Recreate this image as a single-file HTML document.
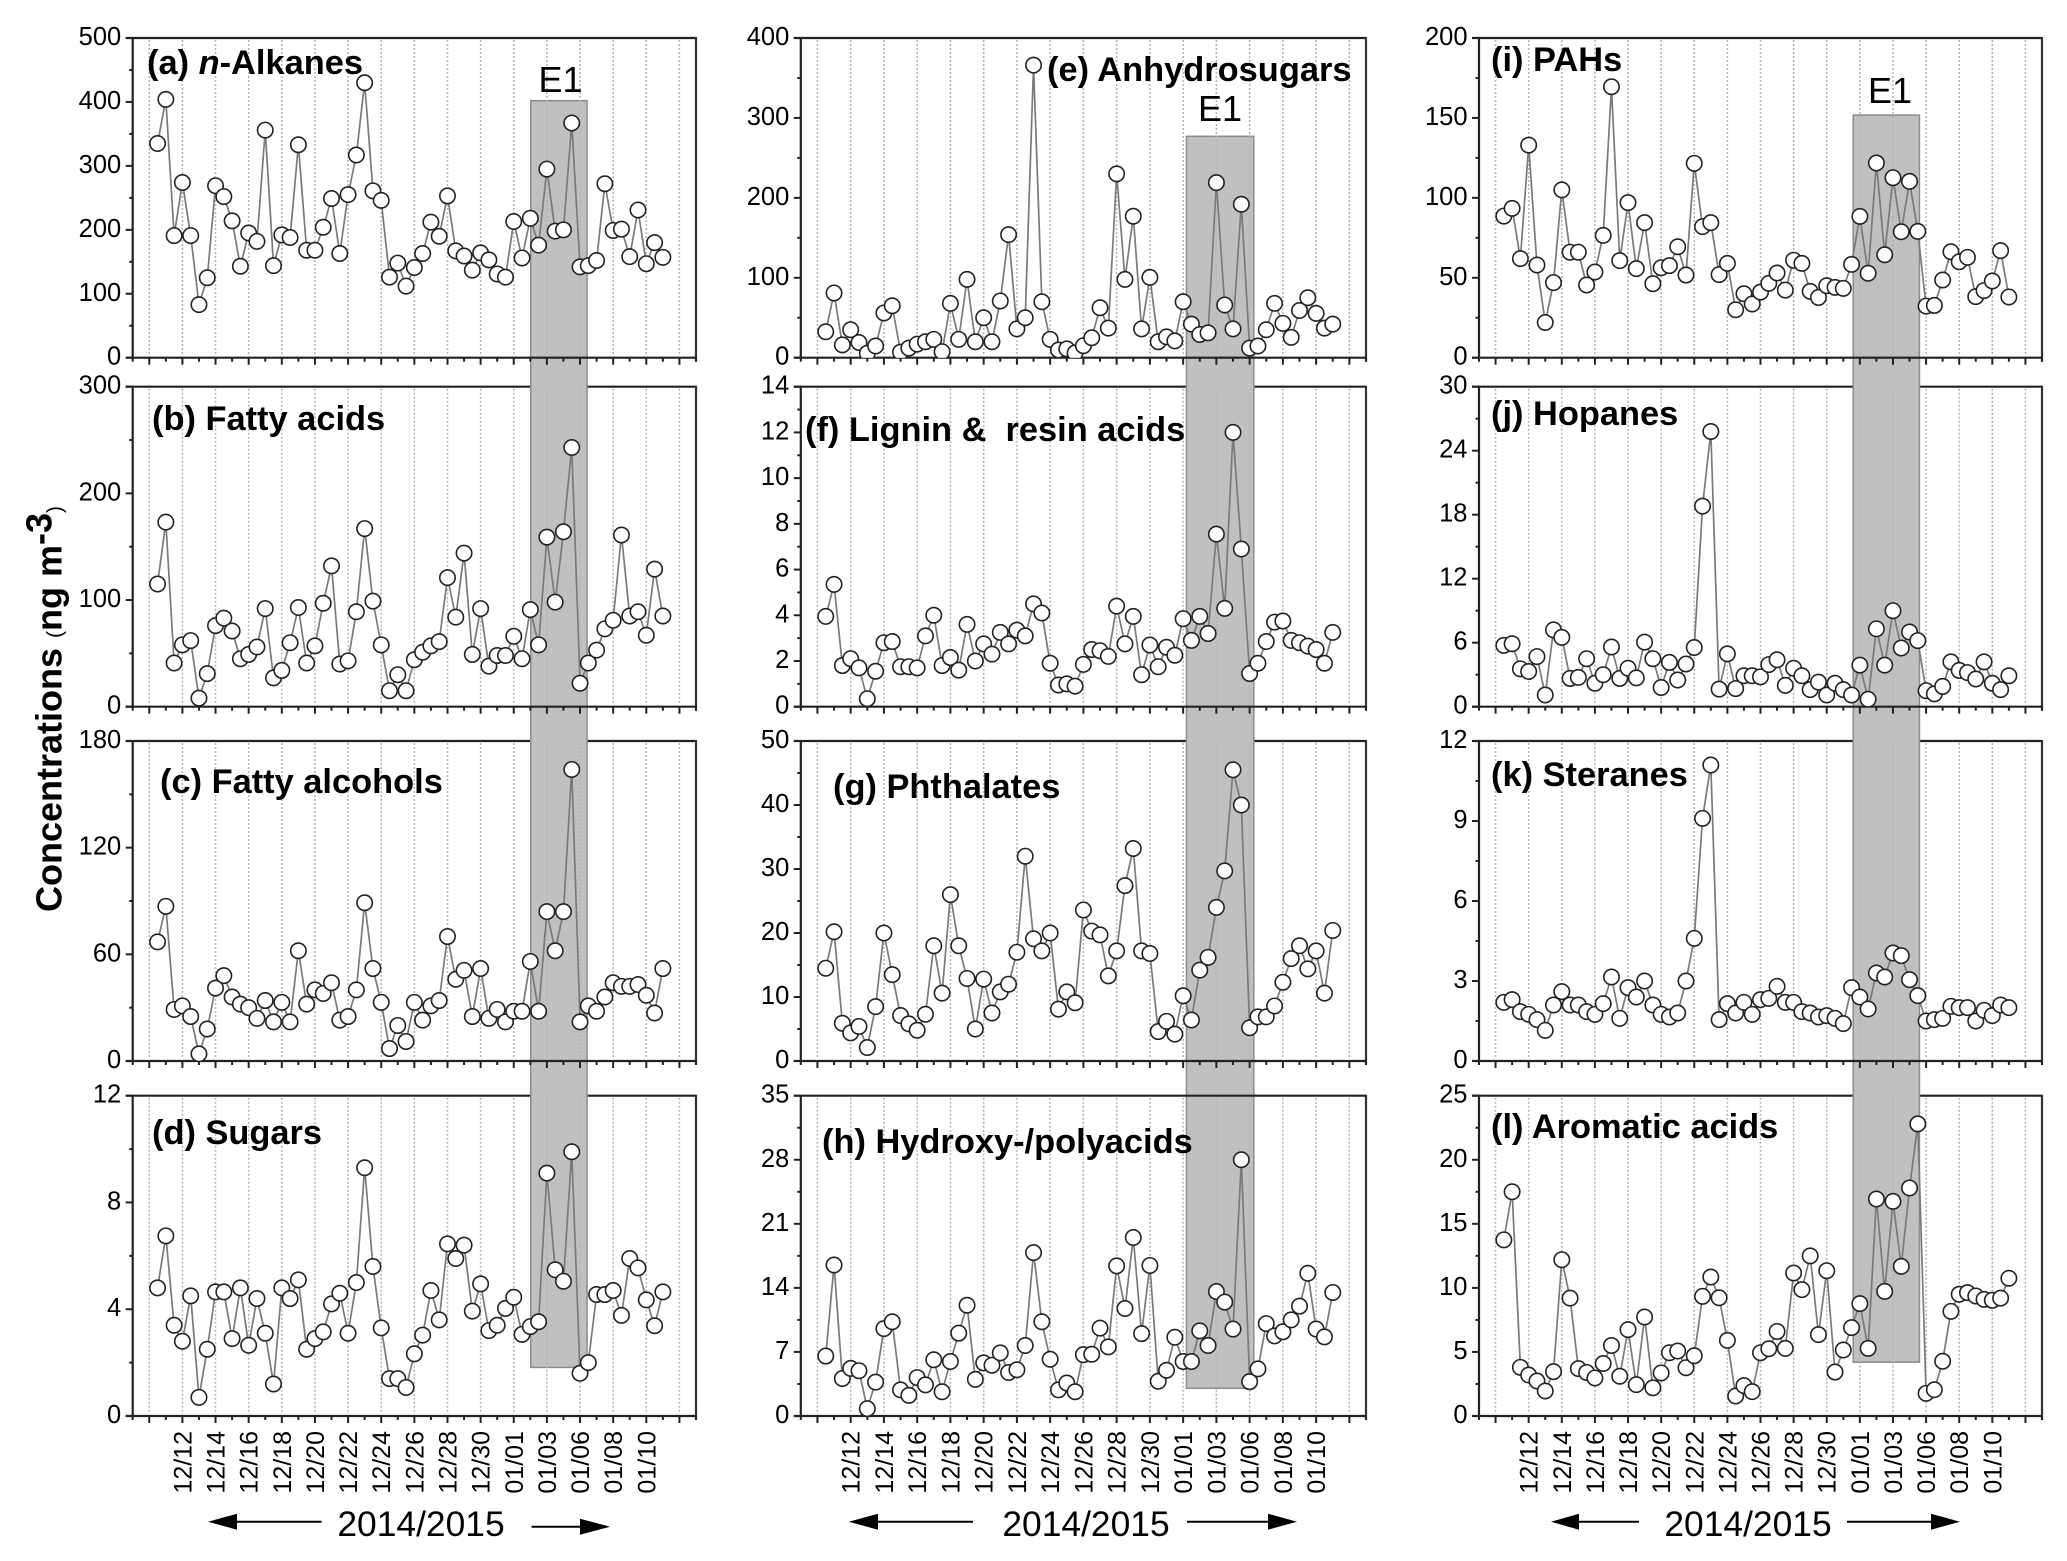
<!DOCTYPE html>
<html lang="en">
<head>
<meta charset="utf-8">
<title>Concentrations time series 2014/2015</title>
<style>
html,body{margin:0;padding:0;background:#fff;}
svg{display:block;font-family:"Liberation Sans",Arial,sans-serif;}
.pt{font-weight:bold;font-size:34.4px;fill:#000;white-space:pre;}
.e1{font-size:36px;fill:#000;text-anchor:middle;}
.yr{font-size:35.4px;fill:#000;text-anchor:middle;}
</style>
</head>
<body>
<svg id="chart" xmlns="http://www.w3.org/2000/svg" width="2067" height="1561" viewBox="0 0 2067 1561">
  <rect width="2067" height="1561" fill="#fff"/>
  <defs id="clips"></defs>
  <g id="layer-back"></g>
  <g id="layer-band"></g>
  <g id="layer-grid"></g>
  <g id="layer-front"></g>
  <g id="layer-series"></g>

  <g>
    <text class="pt" x="147" y="74">(a) <tspan font-style="italic">n</tspan>-Alkanes</text>
    <text class="pt" x="152" y="430">(b) Fatty acids</text>
    <text class="pt" x="160" y="793">(c) Fatty alcohols</text>
    <text class="pt" x="152" y="1144">(d) Sugars</text>
    <text class="pt" x="1047" y="81">(e) Anhydrosugars</text>
    <text class="pt" x="805" y="441">(f) Lignin &amp;  resin acids</text>
    <text class="pt" x="833" y="798">(g) Phthalates</text>
    <text class="pt" x="822" y="1153">(h) Hydroxy-/polyacids</text>
    <text class="pt" x="1491" y="71">(i) PAHs</text>
    <text class="pt" x="1491" y="425">(j) Hopanes</text>
    <text class="pt" x="1491" y="786">(k) Steranes</text>
    <text class="pt" x="1491" y="1138">(l) Aromatic acids</text>
  </g>

  <g>
    <text class="e1" x="560.5" y="92">E1</text>
    <text class="e1" x="1220" y="121">E1</text>
    <text class="e1" x="1890" y="103">E1</text>
  </g>

  <text transform="translate(61.7 912) rotate(-90)" font-weight="bold" font-size="36" fill="#000">Concentrations <tspan font-size="21" font-weight="normal">(</tspan><tspan>ng m</tspan><tspan dy="-10">-3</tspan><tspan dy="10" font-size="21" font-weight="normal">)</tspan></text>

  <g>
    <text class="yr" x="421" y="1536">2014/2015</text>
    <line x1="237" y1="1521.7" x2="321.5" y2="1521.7" stroke="#000" stroke-width="2"/>
    <polygon points="208,1521.7 237,1513.7 237,1529.7" fill="#000"/>
    <line x1="531.6" y1="1526.7" x2="580" y2="1526.7" stroke="#000" stroke-width="2"/>
    <polygon points="610,1526.7 580,1518.7 580,1534.7" fill="#000"/>
  </g>
  <g>
    <text class="yr" x="1086" y="1536">2014/2015</text>
    <line x1="878" y1="1521.7" x2="973" y2="1521.7" stroke="#000" stroke-width="2"/>
    <polygon points="848.7,1521.7 878,1513.7 878,1529.7" fill="#000"/>
    <line x1="1187" y1="1521.7" x2="1268" y2="1521.7" stroke="#000" stroke-width="2"/>
    <polygon points="1297,1521.7 1268,1513.7 1268,1529.7" fill="#000"/>
  </g>
  <g>
    <text class="yr" x="1748" y="1536">2014/2015</text>
    <line x1="1579" y1="1521.7" x2="1639" y2="1521.7" stroke="#000" stroke-width="2"/>
    <polygon points="1551,1521.7 1579,1513.7 1579,1529.7" fill="#000"/>
    <line x1="1847" y1="1521.7" x2="1931" y2="1521.7" stroke="#000" stroke-width="2"/>
    <polygon points="1960,1521.7 1931,1513.7 1931,1529.7" fill="#000"/>
  </g>
</svg>

<script>
// Categories: date label printed on major ticks 1..15 of the bottom row
const dateLabels = ['12/12','12/14','12/16','12/18','12/20','12/22','12/24','12/26','12/28','12/30','01/01','01/03','01/06','01/08','01/10'];

// Series values (62 half-day samples each)
const nAlkanes = [335,404,191,274,191,83,125,269,252,214,143,195,182,356,144,192,188,333,168,168,204,249,163,255,317,430,261,246,126,148,112,141,163,212,190,253,167,159,137,164,153,131,126,213,156,218,176,295,198,200,367,142,144,152,272,199,201,158,231,147,180,157];
const fattyAcids = [115,173,41,58,62,8,31,76,83,71,45,49,56,92,27,34,60,93,41,57,97,132,40,43,89,167,99,58,15,30,15,44,51,57,61,121,84,144,49,92,38,48,48,66,45,91,58,159,98,164,243,22,41,53,73,81,161,85,89,67,129,85];
const fattyAlcohols = [67,87,29,31,25,4,18,41,48,36,32,30,24,34,22,33,22,62,32,40,38,44,23,25,40,89,52,33,7,20,11,33,23,31,34,70,46,51,25,52,24,29,22,28,28,56,28,84,62,84,164,22,31,28,36,44,42,42,43,37,27,52];
const sugars = [4.8,6.75,3.4,2.8,4.5,0.7,2.5,4.65,4.65,2.9,4.8,2.65,4.4,3.1,1.2,4.8,4.4,5.1,2.5,2.9,3.15,4.2,4.6,3.1,5.0,9.3,5.6,3.3,1.4,1.4,1.07,2.33,3.03,4.7,3.6,6.45,5.9,6.4,3.93,4.95,3.2,3.4,4.03,4.45,3.06,3.35,3.53,9.1,5.48,5.05,9.9,1.6,2.0,4.55,4.55,4.7,3.77,5.9,5.55,4.35,3.38,4.65];
const anhydrosugars = [32.5,81,16,35,19,5.5,14.6,56,65,7,12,17,20,23,7.5,68,23,98,20,50,20,71,154,36,50,366,70,23,9.6,11,6,15,25,62.5,37,230,98,177,36,100.5,20,26,21,70,42,29,31,219,66,36,192,12,14.6,35,68,43,25.5,59,75,55.5,37,42];
const ligninResinAcids = [3.95,5.35,1.8,2.1,1.7,0.35,1.55,2.8,2.85,1.75,1.75,1.7,3.1,4.0,1.8,2.15,1.6,3.6,2.0,2.75,2.3,3.25,2.75,3.35,3.1,4.5,4.1,1.9,0.95,1.0,0.9,1.85,2.5,2.45,2.2,4.4,2.75,3.95,1.4,2.7,1.75,2.6,2.25,3.85,2.9,3.95,3.2,7.55,4.3,12.0,6.9,1.45,1.9,2.85,3.7,3.75,2.9,2.8,2.65,2.5,1.9,3.25];
const phthalates = [14.5,20.2,5.9,4.4,5.4,2.1,8.5,20,13.5,7.1,5.8,4.8,7.3,18,10.6,26,18,12.9,5,12.8,7.5,10.8,12,17,32,19.1,17.2,20,8.1,10.8,9.1,23.6,20.3,19.7,13.3,17.2,27.4,33.2,17.2,16.8,4.6,6.2,4.2,10.2,6.4,14.2,16.2,24,29.7,45.5,40,5.2,6.9,6.9,8.6,12.3,16,18,14.4,17.2,10.6,20.4];
const hydroxyPolyacids = [6.55,16.5,4.1,5.2,4.95,0.8,3.7,9.55,10.3,2.85,2.25,4.2,3.4,6.15,2.65,5.95,9.05,12.1,4.0,5.8,5.55,6.9,4.75,5.05,7.7,17.85,10.3,6.2,2.85,3.6,2.65,6.7,6.75,9.6,7.55,16.4,11.75,19.5,9.0,16.45,3.8,5.0,8.6,5.95,5.95,9.3,7.7,13.6,12.45,9.5,28,3.75,5.15,10.1,8.75,9.2,10.5,12,15.6,9.5,8.65,13.5];
const pahs = [88.6,93.4,62,133,58,22,47,105,66,66,45.5,53.6,76.5,169.5,60.7,97,55.7,84.5,46.3,56.3,57.6,69.4,51.7,121.6,82,84.5,52,59,30,40,33.6,41,46.5,53,42.3,61,59,41.5,37.7,45,44,43.4,58.4,88.4,52.8,121.8,64.4,112.6,78.8,110.3,79,32.3,32.7,48.6,66.3,60,62.8,38.2,42,48,67,38];
const hopanes = [5.75,5.9,3.55,3.3,4.7,1.1,7.2,6.5,2.65,2.75,4.5,2.2,3.0,5.6,2.65,3.6,2.7,6.05,4.5,1.8,4.15,2.5,4.0,5.55,18.8,25.8,1.65,4.95,1.7,2.9,2.9,2.8,3.95,4.4,2.0,3.6,2.9,1.6,2.3,1.1,2.2,1.6,1.1,3.9,0.7,7.3,3.9,9.0,5.5,7.0,6.2,1.5,1.2,1.9,4.2,3.4,3.2,2.6,4.2,2.2,1.6,2.9];
const steranes = [2.2,2.3,1.85,1.75,1.55,1.15,2.1,2.6,2.1,2.1,1.85,1.75,2.15,3.15,1.6,2.75,2.4,3.0,2.1,1.75,1.65,1.8,3.0,4.6,9.1,11.1,1.55,2.15,1.8,2.2,1.75,2.3,2.35,2.8,2.2,2.2,1.85,1.8,1.65,1.7,1.6,1.4,2.75,2.4,1.95,3.3,3.15,4.05,3.95,3.05,2.45,1.5,1.55,1.6,2.05,2.0,2.0,1.5,1.9,1.7,2.1,2.0];
const aromaticAcids = [13.75,17.5,3.8,3.2,2.73,1.95,3.46,12.2,9.2,3.7,3.4,2.97,4.1,5.5,3.1,6.74,2.45,7.73,2.2,3.36,4.94,5.07,3.77,4.7,9.34,10.85,9.23,5.9,1.56,2.37,1.9,4.94,5.25,6.6,5.28,11.16,9.86,12.5,6.35,11.34,3.43,5.15,6.9,8.77,5.28,16.94,9.73,16.75,11.68,17.8,22.8,1.77,2.05,4.27,8.17,9.5,9.63,9.37,9.1,9.03,9.2,10.75];

// Y-axis tick labels per panel
const ticksA = [0,100,200,300,400,500];
const ticksB = [0,100,200,300];
const ticksC = [0,60,120,180];
const ticksD = [0,4,8,12];
const ticksE = [0,100,200,300,400];
const ticksF = [0,2,4,6,8,10,12,14];
const ticksG = [0,10,20,30,40,50];
const ticksH = [0,7,14,21,28,35];
const ticksI = [0,50,100,150,200];
const ticksJ = [0,6,12,18,24,30];
const ticksK = [0,3,6,9,12];
const ticksL = [0,5,10,15,20,25];

// Layout
const columns = [
  {left:132.7, right:696},
  {left:800.8, right:1366},
  {left:1479, right:2042}
];
const rows = [
  {top:38, bottom:357.7},
  {top:386.7, bottom:706.7},
  {top:741, bottom:1061},
  {top:1095.7, bottom:1416}
];
const X_MIN = -2, X_MAX = 66, X_MAJOR = 4;

const panels = [
  {key:'a', col:0, row:0, values:nAlkanes, ticks:ticksA},
  {key:'b', col:0, row:1, values:fattyAcids, ticks:ticksB},
  {key:'c', col:0, row:2, values:fattyAlcohols, ticks:ticksC},
  {key:'d', col:0, row:3, values:sugars, ticks:ticksD},
  {key:'e', col:1, row:0, values:anhydrosugars, ticks:ticksE},
  {key:'f', col:1, row:1, values:ligninResinAcids, ticks:ticksF},
  {key:'g', col:1, row:2, values:phthalates, ticks:ticksG},
  {key:'h', col:1, row:3, values:hydroxyPolyacids, ticks:ticksH, topOverBand:true},
  {key:'i', col:2, row:0, values:pahs, ticks:ticksI},
  {key:'j', col:2, row:1, values:hopanes, ticks:ticksJ},
  {key:'k', col:2, row:2, values:steranes, ticks:ticksK},
  {key:'l', col:2, row:3, values:aromaticAcids, ticks:ticksL}
];

// E1 event extent: sample-index range, top value in the column's first panel, bottom value in its last panel
const bands = [
  {col:0, from:46.05, to:52.85, topPanel:0, topValue:402, bottomPanel:3, bottomValue:1.82},
  {col:1, from:44.4, to:52.5, topPanel:4, topValue:277, bottomPanel:7, bottomValue:3.03},
  {col:2, from:43.2, to:51.2, topPanel:8, topValue:151.8, bottomPanel:11, bottomValue:4.2}
];

const NS = 'http://www.w3.org/2000/svg';
function mk(tag, attrs, parent){
  const el = document.createElementNS(NS, tag);
  for (const k in attrs) el.setAttribute(k, attrs[k]);
  parent.appendChild(el);
  return el;
}
function xScale(col, v){
  const c = columns[col];
  return c.left + (v - X_MIN) / (X_MAX - X_MIN) * (c.right - c.left);
}
function yScale(p, v){
  const r = rows[p.row];
  const max = p.ticks[p.ticks.length - 1];
  return r.bottom - v / max * (r.bottom - r.top);
}

const back = document.getElementById('layer-back');
const bandLayer = document.getElementById('layer-band');
const grid = document.getElementById('layer-grid');
const front = document.getElementById('layer-front');
const seriesLayer = document.getElementById('layer-series');
const clips = document.getElementById('clips');
const AXIS = '#222';

panels.forEach(function(p){
  const c = columns[p.col], r = rows[p.row];

  // frame
  const topLine = mk('line', {x1:c.left-7, y1:r.top, x2:c.right, y2:r.top, stroke:AXIS, 'stroke-width':2.2}, p.topOverBand ? front : back);
  
  
  const leftLine = mk('line', {x1:c.left, y1:r.top-1, x2:c.left, y2:r.bottom+1, stroke:AXIS, 'stroke-width':2.2}, back);
  
  
  const rightLine = mk('line', {x1:c.right, y1:r.top-1, x2:c.right, y2:r.bottom+4, stroke:'#333', 'stroke-width':2.2}, back);
  
  
  const bottomLine = mk('line', {x1:c.left-7, y1:r.bottom, x2:c.right+1, y2:r.bottom, stroke:AXIS, 'stroke-width':2.2}, front);
  
  

  // x ticks + gridlines
  for (let v = 0, k = 0; v <= 64; v += X_MAJOR, k++){
    const x = xScale(p.col, v);
    const g = mk('line', {x1:x, y1:r.top+2, x2:x, y2:r.bottom-2, stroke:'#b4b4b4', 'stroke-width':1.5, 'stroke-dasharray':'2 2'}, grid);
    
    
    const t = mk('line', {x1:x, y1:r.bottom, x2:x, y2:r.bottom+7, stroke:AXIS, 'stroke-width':2}, front);
    
    
    const mx = xScale(p.col, v - X_MAJOR / 2);
    const mt = mk('line', {x1:mx, y1:r.bottom, x2:mx, y2:r.bottom+4, stroke:AXIS, 'stroke-width':2}, front);
    
    
    if (p.row === 3 && k >= 1 && k <= dateLabels.length){
      const lab = mk('text', {x:x+9, y:1431, 'font-size':25, fill:'#000', 'text-anchor':'end', transform:'rotate(-90 '+(x+9)+' 1431)'}, front);
      lab.textContent = dateLabels[k-1];
      
      
    }
  }
  const lastMinor = xScale(p.col, 66);
  const lm = mk('line', {x1:lastMinor, y1:r.bottom, x2:lastMinor, y2:r.bottom+4, stroke:AXIS, 'stroke-width':2}, front);
  
  

  // y ticks
  p.ticks.forEach(function(v, i){
    const y = yScale(p, v);
    const t = mk('line', {x1:c.left-7, y1:y, x2:c.left, y2:y, stroke:AXIS, 'stroke-width':2}, front);
    
    
    const lab = mk('text', {x:c.left-11.5, y:y+7, 'font-size':25.5, fill:'#000', 'text-anchor':'end'}, front);
    lab.textContent = String(v);
    
    
    if (i < p.ticks.length - 1){
      const my = yScale(p, (v + p.ticks[i+1]) / 2);
      const mt = mk('line', {x1:c.left-3.5, y1:my, x2:c.left, y2:my, stroke:AXIS, 'stroke-width':2}, front);
      
      
    }
  });

  // clip for series
  const cp = mk('clipPath', {id:'clip-' + p.key}, clips);
  mk('rect', {x:c.left, y:r.top, width:c.right-c.left, height:r.bottom-r.top}, cp);

  // series
  const g = mk('g', {'clip-path':'url(#clip-' + p.key + ')'}, seriesLayer);
  
  
  const pts = p.values.map(function(v, i){
    return xScale(p.col, i + 1).toFixed(2) + ',' + yScale(p, v).toFixed(2);
  }).join(' ');
  const line = mk('polyline', {points:pts, fill:'none', stroke:'#7a7a7a', 'stroke-width':1.7}, g);
  
  
  p.values.forEach(function(v, i){
    const pt = mk('circle', {cx:xScale(p.col, i + 1), cy:yScale(p, v), r:7.7, fill:'#fff', stroke:'#222', 'stroke-width':1.6}, g);
    
    
  });
});

bands.forEach(function(b){
  const x0 = xScale(b.col, b.from), x1 = xScale(b.col, b.to);
  const y0 = yScale(panels[b.topPanel], b.topValue);
  const y1 = yScale(panels[b.bottomPanel], b.bottomValue);
  const rect = mk('rect', {x:x0, y:y0, width:x1-x0, height:y1-y0, fill:'#c0c0c0', stroke:'#8c8c8c', 'stroke-width':1.5}, bandLayer);
  
  
});
</script>
</body>
</html>
